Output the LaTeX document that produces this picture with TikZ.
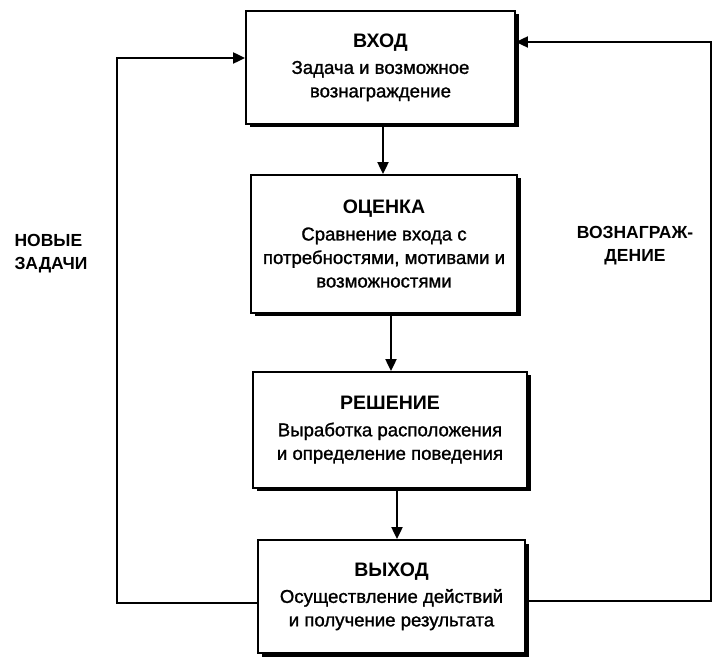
\documentclass[tikz,border=0pt]{standalone}
\usepackage{fontspec}
\setmainfont{Liberation Sans}
\newfontfamily\bodyfont[FakeBold=1.2]{Liberation Sans}
\usetikzlibrary{arrows.meta,shadows}
\begin{document}
\begin{tikzpicture}[x=1pt,y=1pt,
  box/.style={draw=black, line width=1.8pt, fill=white, align=center,
    font=\bodyfont\fontsize{18.6}{23.5}\selectfont,
    drop shadow={shadow xshift=3.5pt, shadow yshift=-3.5pt, opacity=1, fill=black}},
  hd/.style={},
  conn/.style={line width=2pt, -{Triangle[length=12pt,width=11pt]}},
  side/.style={font=\bfseries\fontsize{17.5}{23}\selectfont}]
\useasboundingbox (0,0) rectangle (713,657);
\newcommand{\hdtext}[1]{{\normalfont\bfseries\fontsize{19.5}{23.5}\selectfont #1}}
\node[box, minimum width=269pt, minimum height=113pt] (b1) at (380.5,589.5)
  {\hdtext{ВХОД}\\[3pt]Задача и возможное\\вознаграждение};
\node[box, minimum width=266pt, minimum height=138pt] (b2) at (384,413)
  {\hdtext{ОЦЕНКА}\\[3pt]Сравнение входа с\\потребностями, мотивами и\\возможностями};
\node[box, minimum width=274pt, minimum height=116pt] (b3) at (390,227)
  {\hdtext{РЕШЕНИЕ}\\[3pt]Выработка расположения\\и определение поведения};
\node[box, minimum width=267pt, minimum height=113pt] (b4) at (391.5,60.5)
  {\hdtext{ВЫХОД}\\[3pt]Осуществление действий\\и получение результата};
\node[side, anchor=west, align=left] (l1) at (11,403) {НОВЫЕ\\ЗАДАЧИ};
\node[side, align=center] (l2) at (635,411) {ВОЗНАГРАЖ-\\ДЕНИЕ};
\draw[conn] ([xshift=2.5]b1.south) -- ([xshift=2.5]b1.south |- b2.north);
\draw[conn] ([xshift=7]b2.south) -- ([xshift=7]b2.south |- b3.north);
\draw[conn] ([xshift=7]b3.south) -- ([xshift=7]b3.south |- b4.north);
\coordinate (lc) at (117,599);
\coordinate (rc) at (711,615);
\draw[conn] ([yshift=-6.5]b4.west) -| (lc) -- ([yshift=9.5]b1.west);
\draw[conn] ([yshift=-4.5]b4.east) -| (rc) -- ([yshift=25.5]b1.east);
\end{tikzpicture}
\end{document}
